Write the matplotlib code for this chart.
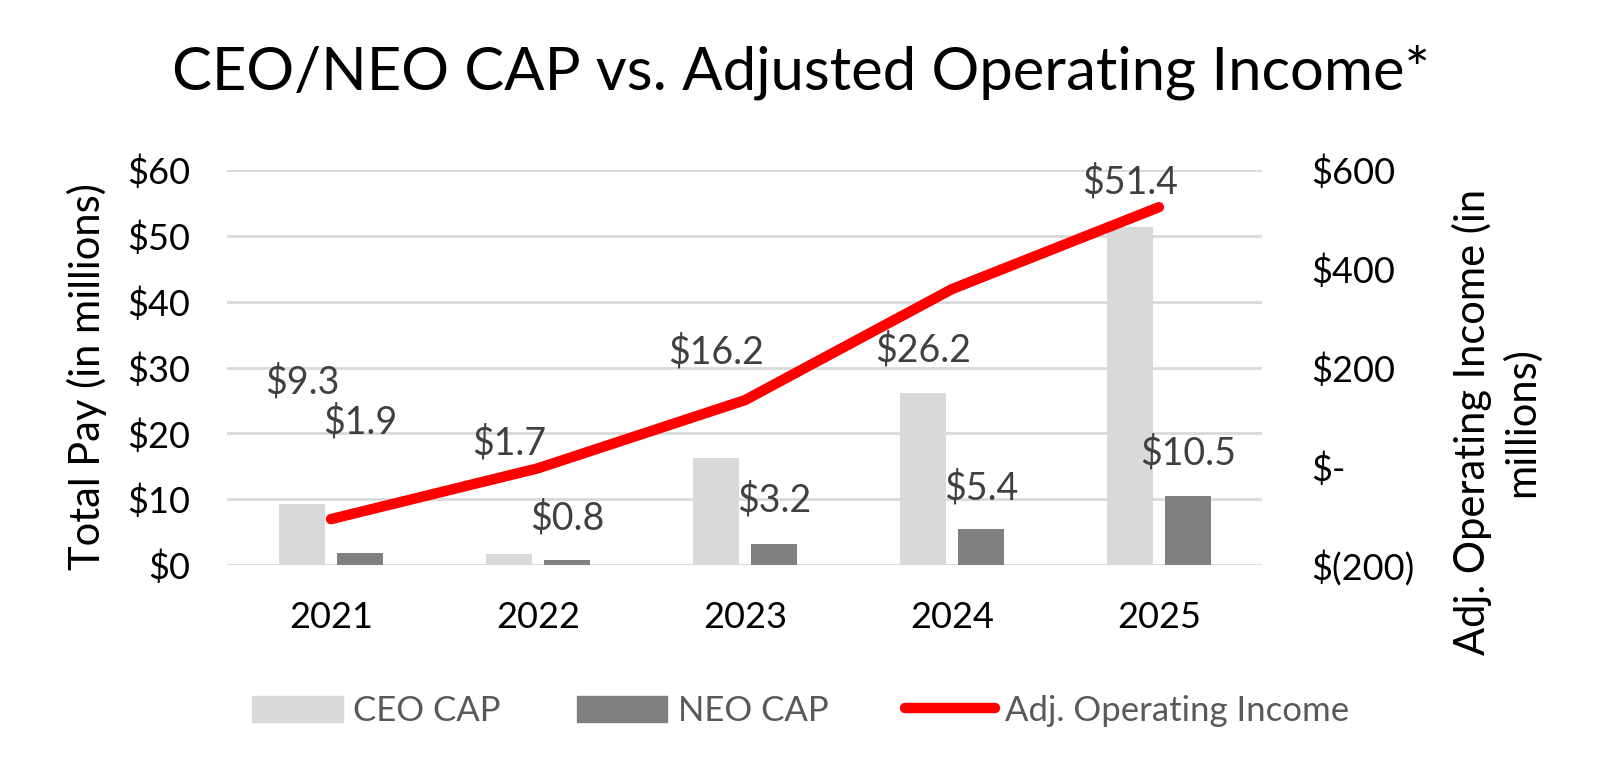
import matplotlib
matplotlib.use('Agg')
import matplotlib.pyplot as plt
from matplotlib.patches import Patch
from matplotlib.lines import Line2D
import numpy as np

plt.rcParams['font.family'] = ['Lato', 'DejaVu Sans']

# chart data
years     = ['2021', '2022', '2023', '2024', '2025']
ceo_cap   = [9.3, 1.7, 16.2, 26.2, 51.4]
neo_cap   = [1.9, 0.8, 3.2, 5.4, 10.5]
adj_oi    = [-107, -4, 134, 359, 525]
left_ticks  = [0, 10, 20, 30, 40, 50, 60]
right_ticks = [-200, 0, 200, 400, 600]
right_tick_labels = ['$(200)', '$-', '$200', '$400', '$600']

# label placement (Excel-style manual positions, in left-axis units)
ceo_label_y = [27.8, 18.5, 32.4, 32.7, 58.2]
neo_label_y = [21.7, 7.1, 9.9, 11.7, 17.0]

fig = plt.figure(figsize=(16.02, 7.77), dpi=100)
ax = fig.add_axes([0.142, 0.2728, 0.646, 0.5082])
ax2 = ax.twinx()

x = np.arange(len(years))
bw = 0.222
off = 0.14

ax.bar(x - off, ceo_cap, bw, color='#D9D9D9', zorder=2)
ax.bar(x + off, neo_cap, bw, color='#808080', zorder=2)

ax.set_xlim(-0.5, len(years) - 0.5)
ax.set_ylim(0, 60)
ax.set_yticks(left_ticks)
ax.set_yticklabels(['$' + str(t) for t in left_ticks])
ax.set_xticks(x)
ax.set_xticklabels(years)
ax.grid(axis='y', color='#D9D9D9', lw=2, zorder=0)
ax.set_axisbelow(True)
for s in ax.spines.values():
    s.set_visible(False)
ax.tick_params(axis='both', length=0, labelsize=26, colors='black')
ax.tick_params(axis='x', pad=26)
ax.tick_params(axis='y', pad=27)

# value labels
for i in range(len(years)):
    ax.text(x[i] - off, ceo_label_y[i], '$' + str(ceo_cap[i]), ha='center',
            va='center', fontsize=27, color='#404040', zorder=5)
    ax.text(x[i] + off, neo_label_y[i], '$' + str(neo_cap[i]), ha='center',
            va='center', fontsize=27, color='#404040', zorder=5)

# line on secondary axis
ax2.plot(x, adj_oi, color='#FF0000', lw=7.5, solid_capstyle='round',
         solid_joinstyle='round', zorder=4)
ax2.set_ylim(-200, 600)
ax2.set_yticks(right_ticks)
ax2.set_yticklabels(right_tick_labels)
for s in ax2.spines.values():
    s.set_visible(False)
ax2.tick_params(axis='y', length=0, labelsize=26, colors='black', pad=35)

# axis titles
fig.text(0.054, 0.516, 'Total Pay (in millions)', rotation=90, ha='center',
         va='center', fontsize=30)
fig.text(0.934, 0.457, 'Adj. Operating Income (in\nmillions)', rotation=90,
         ha='center', va='center', fontsize=30, linespacing=1.3,
         multialignment='center')

fig.text(0.5, 0.907, 'CEO/NEO CAP vs. Adjusted Operating Income*', ha='center',
         va='center', fontsize=43)

handles = [Patch(color='#D9D9D9', label='CEO CAP'),
           Patch(color='#808080', label='NEO CAP'),
           Line2D([0], [0], color='#FF0000', lw=7.5, solid_capstyle='round',
                  label='Adj. Operating Income')]
leg = fig.legend(handles=handles, loc='center', bbox_to_anchor=(0.5, 0.085),
                 ncol=3, frameon=False, fontsize=25, handlelength=2.6,
                 handleheight=0.8, handletextpad=0.3, columnspacing=2.2)
for t in leg.get_texts():
    t.set_color('#595959')

fig.savefig('out.png', dpi=100)
